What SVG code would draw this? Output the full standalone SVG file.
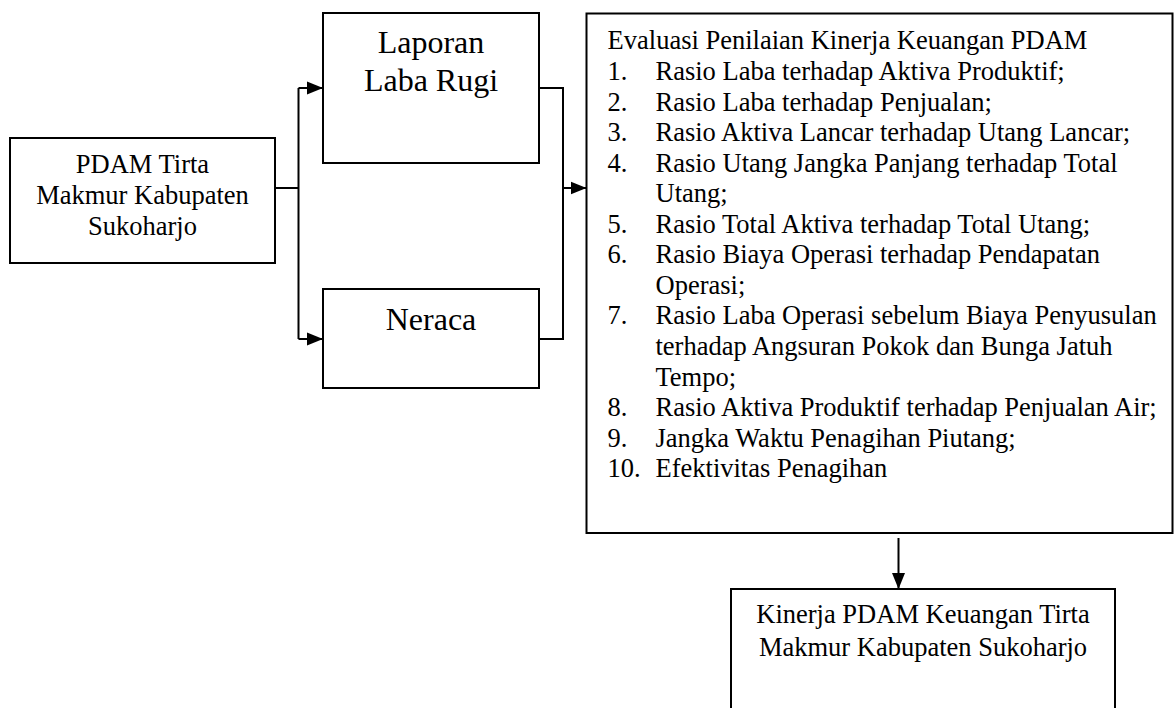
<svg xmlns="http://www.w3.org/2000/svg" width="1174" height="708" viewBox="0 0 1174 708">
<style>
.box{fill:#fff;stroke:#000;stroke-width:2}
.ln{fill:none;stroke:#000;stroke-width:2}
text{font-family:"Liberation Serif","Times New Roman",serif;fill:#000}
.t{font-size:26.5px}
.tc{font-size:26.5px;text-anchor:middle}
.big{font-size:32px;text-anchor:middle}
</style>
<defs>
<marker id="ah" markerUnits="userSpaceOnUse" markerWidth="18" markerHeight="14" refX="16" refY="7" orient="auto">
<path d="M0,0.5 L16,7 L0,13.5 Z" fill="#000"/>
</marker>
</defs>
<rect x="0" y="0" width="1174" height="708" fill="#fff"/>
<g id="connectors">
<path class="ln" d="M275,188 H298.5"/>
<path class="ln" d="M298.5,88 V339"/>
<path class="ln" d="M298.5,88 H323" marker-end="url(#ah)"/>
<path class="ln" d="M298.5,339 H323" marker-end="url(#ah)"/>
<path class="ln" d="M539,88 H563 V339 H539"/>
<path class="ln" d="M563,188 H586.5" marker-end="url(#ah)"/>
<path class="ln" d="M898.5,538 V589" marker-end="url(#ah)"/>
</g>
<g id="pdam">
<rect class="box" x="10" y="138" width="265" height="125"/>
<text class="tc" x="142.5" y="173.3">PDAM Tirta</text>
<text class="tc" x="142.5" y="204">Makmur Kabupaten</text>
<text class="tc" x="142.5" y="235">Sukoharjo</text>
</g>
<g id="laba-rugi">
<rect class="box" x="323" y="13" width="216" height="150"/>
<text class="big" x="431" y="53">Laporan</text>
<text class="big" x="431" y="90.5">Laba Rugi</text>
</g>
<g id="neraca">
<rect class="box" x="323" y="289" width="216" height="99"/>
<text class="big" x="431" y="330">Neraca</text>
</g>
<g id="evaluasi">
<rect class="box" x="586.5" y="13.5" width="586" height="519.5"/>
<text class="t" x="607.6" y="49">Evaluasi Penilaian Kinerja Keuangan PDAM</text>
<text class="t" x="607.6" y="80">1.</text><text class="t" x="655.5" y="80">Rasio Laba terhadap Aktiva Produktif;</text>
<text class="t" x="607.6" y="110.6">2.</text><text class="t" x="655.5" y="110.6">Rasio Laba terhadap Penjualan;</text>
<text class="t" x="607.6" y="141.1">3.</text><text class="t" x="655.5" y="141.1">Rasio Aktiva Lancar terhadap Utang Lancar;</text>
<text class="t" x="607.6" y="171.7">4.</text><text class="t" x="655.5" y="171.7">Rasio Utang Jangka Panjang terhadap Total</text>
<text class="t" x="655.5" y="202.2">Utang;</text>
<text class="t" x="607.6" y="232.8">5.</text><text class="t" x="655.5" y="232.8">Rasio Total Aktiva terhadap Total Utang;</text>
<text class="t" x="607.6" y="263.3">6.</text><text class="t" x="655.5" y="263.3">Rasio Biaya Operasi terhadap Pendapatan</text>
<text class="t" x="655.5" y="293.9">Operasi;</text>
<text class="t" x="607.6" y="324.4">7.</text><text class="t" x="655.5" y="324.4">Rasio Laba Operasi sebelum Biaya Penyusulan</text>
<text class="t" x="655.5" y="355">terhadap Angsuran Pokok dan Bunga Jatuh</text>
<text class="t" x="655.5" y="385.5">Tempo;</text>
<text class="t" x="607.6" y="416.1">8.</text><text class="t" x="655.5" y="416.1">Rasio Aktiva Produktif terhadap Penjualan Air;</text>
<text class="t" x="607.6" y="446.6">9.</text><text class="t" x="655.5" y="446.6">Jangka Waktu Penagihan Piutang;</text>
<text class="t" x="607.6" y="477.2">10.</text><text class="t" x="655.5" y="477.2">Efektivitas Penagihan</text>
</g>
<g id="kinerja">
<rect class="box" x="731" y="589" width="384" height="140"/>
<text class="tc" x="923" y="623">Kinerja PDAM Keuangan Tirta</text>
<text class="tc" x="923" y="656">Makmur Kabupaten Sukoharjo</text>
</g>
</svg>
